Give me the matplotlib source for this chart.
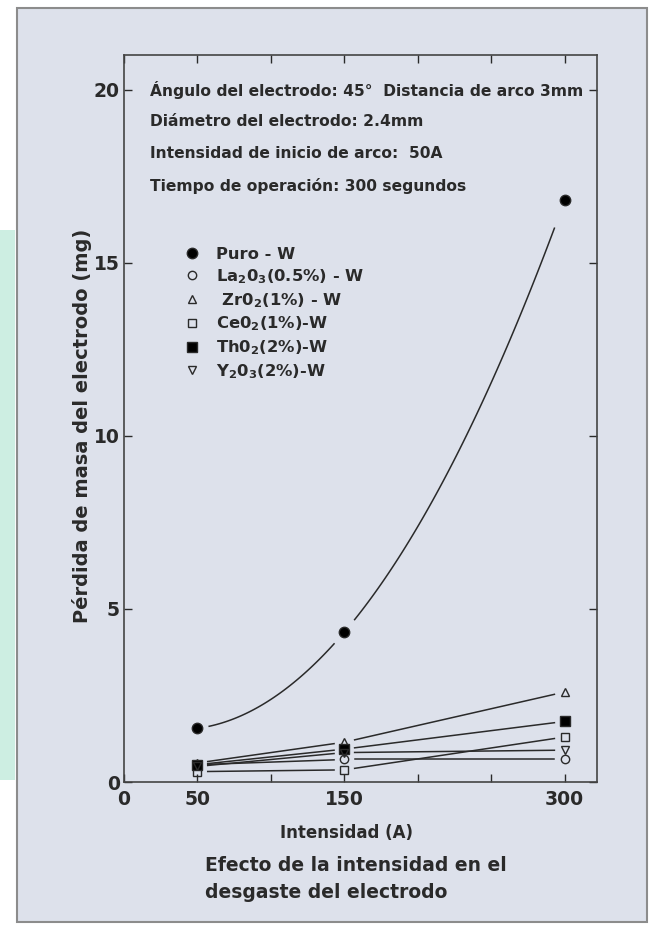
import numpy as np
import matplotlib
matplotlib.use("Agg")
import matplotlib.pyplot as plt
from matplotlib.patches import Rectangle

plt.rcParams['font.family'] = ['DejaVu Sans']
plt.rcParams['font.weight'] = 'bold'
plt.rcParams['mathtext.fontset'] = 'custom'
plt.rcParams['mathtext.rm'] = 'DejaVu Sans:bold'
plt.rcParams['mathtext.it'] = 'DejaVu Sans:bold'

# datos
intensidad = [50, 150, 300]
puro = [1.55, 4.33, 16.8]
la2o3 = [0.50, 0.65, 0.65]
zro2 = [0.55, 1.15, 2.60]
ceo2 = [0.30, 0.35, 1.30]
tho2 = [0.50, 0.95, 1.75]
y2o3 = [0.45, 0.85, 0.92]

series = [
    ("Puro - W", puro, 'o', 'k'),
    ("La$_2$0$_3$(0.5%) - W", la2o3, 'o', 'none'),
    (" Zr0$_2$(1%) - W", zro2, '^', 'none'),
    ("Ce0$_2$(1%)-W", ceo2, 's', 'none'),
    ("Th0$_2$(2%)-W", tho2, 's', 'k'),
    ("Y$_2$0$_3$(2%)-W", y2o3, 'v', 'none'),
]

notas = [
    "Ángulo del electrodo: 45°  Distancia de arco 3mm",
    "Diámetro del electrodo: 2.4mm",
    "Intensidad de inicio de arco:  50A",
    "Tiempo de operación: 300 segundos",
]

W, H = 657, 932
fig = plt.figure(figsize=(W / 100, H / 100), dpi=100, facecolor='white')

# fondo de la pagina escaneada
fig.patches.append(Rectangle((17 / W, 1 - 922 / H), 630 / W, 914 / H,
                             transform=fig.transFigure, facecolor='#dde1eb',
                             edgecolor='#8c8c8c', linewidth=1.5, zorder=-2))
fig.patches.append(Rectangle((0, 1 - 780 / H), 15 / W, 550 / H,
                             transform=fig.transFigure, facecolor='#cdeee2',
                             edgecolor='none', zorder=-2))

ax = fig.add_axes([124 / W, 1 - 782 / H, 473 / W, 727 / H])
ax.patch.set_alpha(0)

ink = '#2a2a2a'
for nombre, vals, m, fc in series:
    if nombre.startswith("Puro"):
        coef = np.polyfit(intensidad, vals, 2)
        for a, b in [(58, 143), (157, 293)]:
            xs = np.linspace(a, b, 60)
            ax.plot(xs, np.polyval(coef, xs), color=ink, lw=1.1)
    else:
        for i in range(2):
            x0, x1 = intensidad[i], intensidad[i + 1]
            y0, y1 = vals[i], vals[i + 1]
            xa, xb = x0 + 7, x1 - 7
            ya = y0 + (y1 - y0) * (xa - x0) / (x1 - x0)
            yb = y0 + (y1 - y0) * (xb - x0) / (x1 - x0)
            ax.plot([xa, xb], [ya, yb], color=ink, lw=1.1)
    ms = 7.5 if fc == 'k' else 6
    ax.plot(intensidad, vals, linestyle='none', marker=m, markersize=ms,
            markerfacecolor=fc, markeredgecolor=ink, markeredgewidth=1.0,
            label=nombre)

ax.set_xlim(0, 322)
ax.set_ylim(0, 21)
ax.set_xticks([0, 50, 100, 150, 200, 250, 300])
ax.set_xticklabels(['0', '50', '', '150', '', '', '300'])
ax.set_yticks([0, 5, 10, 15, 20])
ax.tick_params(direction='in', length=6, width=1, colors=ink, labelsize=13.5,
               top=True, right=True)
ax.tick_params(axis='y', pad=3)
ax.tick_params(axis='x', pad=6)
for s in ax.spines.values():
    s.set_color('#444444')
    s.set_linewidth(1.2)

ax.set_xlabel("Intensidad (A)", fontsize=12, color=ink, fontweight='bold')
ax.xaxis.set_label_coords(0.47, -0.058)
ax.set_ylabel("Pérdida de masa del electrodo (mg)", fontsize=14, color=ink,
              fontweight='bold')
ax.yaxis.set_label_coords(-0.067, 0.49)

for i, t in enumerate(notas):
    fig.text(150 / W, 1 - (90 + 32 * i) / H, t, fontsize=11.2, color=ink,
             va='center', ha='left')

ax.legend(loc='upper left', bbox_to_anchor=(184 / W, 1 - 247 / H),
          bbox_transform=fig.transFigure, frameon=False, fontsize=11.8,
          handlelength=1.0, handletextpad=0.95, labelspacing=0.31,
          borderpad=0, borderaxespad=0, labelcolor=ink)

fig.text(205 / W, 1 - 879 / H, "Efecto de la intensidad en el\ndesgaste del electrodo",
         fontsize=13.5, color=ink, va='center', ha='left', linespacing=1.55)

fig.savefig("out.png", dpi=100, facecolor='white')
